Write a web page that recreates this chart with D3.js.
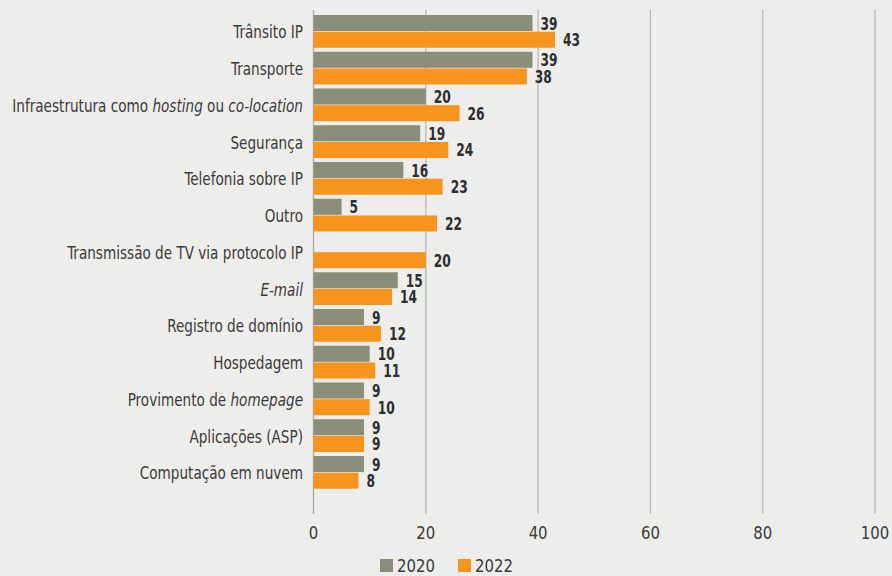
<!DOCTYPE html>
<html>
<head>
<meta charset="utf-8">
<script src="https://cdn.jsdelivr.net/npm/d3@7"></script>
<style>
  html, body { margin: 0; padding: 0; background: #ededeb; }
  svg text { font-family: "Liberation Sans Narrow", "DejaVu Sans Condensed", "Roboto", sans-serif; }
</style>
</head>
<body>
<div id="chart"></div>
<script>
// categorias (trechos entre * ficam em itálico)
let categories = [
  "Trânsito IP",
  "Transporte",
  "Infraestrutura como *hosting* ou *co-location*",
  "Segurança",
  "Telefonia sobre IP",
  "Outro",
  "Transmissão de TV via protocolo IP",
  "*E-mail*",
  "Registro de domínio",
  "Hospedagem",
  "Provimento de *homepage*",
  "Aplicações (ASP)",
  "Computação em nuvem"
];
let series = ["2020", "2022"];
let values2020 = [39, 39, 20, 19, 16, 5, null, 15, 9, 10, 9, 9, 9];
let values2022 = [43, 38, 26, 24, 23, 22, 20, 14, 12, 11, 10, 9, 8];
let ticks = [0, 20, 40, 60, 80, 100];

let width = 892, height = 576;
let squeeze = 0.84; // fonte condensada
let colors = d3.scaleOrdinal().domain(series).range(["#8a8d77", "#f7941d"]);

let svg = d3.select("#chart").append("svg")
  .attr("width", width)
  .attr("height", height);

let x = d3.scaleLinear().domain([0, 100]).range([313.5, 875]);

let y = d3.scaleBand()
  .domain(categories)
  .range([13, 13 + 13 * 36.75])
  .paddingInner(0.109)
  .paddingOuter(0.0545);

let sub = d3.scaleBand().domain(series).range([0, y.bandwidth()]).paddingInner(0.04);

// grade vertical
svg.append("g").selectAll("line")
  .data(ticks)
  .enter().append("line")
  .attr("x1", d => x(d)).attr("x2", d => x(d))
  .attr("y1", 10).attr("y2", 514)
  .attr("stroke", d => d === 0 ? "#a9a9a9" : "#b9b9b9")
  .attr("stroke-width", 1.3);

// rótulos do eixo
svg.append("g").selectAll("text")
  .data(ticks)
  .enter().append("text")
  .attr("transform", d => "translate(" + x(d) + ",539) scale(0.92,1)")
  .attr("text-anchor", "middle")
  .attr("font-size", 18)
  .attr("fill", "#3a3a3a")
  .text(d => d);

let rows = categories.map((c, i) => ({
  cat: c,
  vals: [{ s: "2020", v: values2020[i] }, { s: "2022", v: values2022[i] }]
}));

let row = svg.append("g").selectAll("g")
  .data(rows)
  .enter().append("g")
  .attr("transform", d => "translate(0," + y(d.cat) + ")");

row.selectAll("rect")
  .data(d => d.vals.filter(v => v.v != null))
  .enter().append("rect")
  .attr("x", x(0))
  .attr("y", d => sub(d.s))
  .attr("width", d => x(d.v) - x(0))
  .attr("height", sub.bandwidth())
  .attr("fill", d => colors(d.s));

row.selectAll(".val")
  .data(d => d.vals.filter(v => v.v != null))
  .enter().append("text").classed("val", true)
  .attr("transform", d => "translate(" + (x(d.v) + 8) + "," + (sub(d.s) + sub.bandwidth() / 2 + 6.5) + ") scale(0.8,1)")
  .attr("font-size", 17)
  .attr("font-weight", "bold")
  .attr("fill", "#2e2e2e")
  .text(d => d.v);

// nomes das categorias
let lab = row.append("text")
  .attr("transform", "translate(303," + (y.bandwidth() / 2 + 7) + ") scale(" + squeeze + ",1)")
  .attr("text-anchor", "end")
  .attr("font-size", 18)
  .attr("fill", "#3a3a3a");

lab.each(function(d) {
  let parts = d.cat.split("*");
  let t = d3.select(this);
  parts.forEach((p, i) => {
    if (p === "") return;
    t.append("tspan")
      .attr("font-style", i % 2 === 1 ? "italic" : "normal")
      .text(p);
  });
});

// legenda
let legend = svg.append("g").attr("transform", "translate(380,559)");
let item = legend.selectAll("g")
  .data(series)
  .enter().append("g")
  .attr("transform", (d, i) => "translate(" + i * 78 + ",0)");
item.append("rect")
  .attr("width", 13).attr("height", 13)
  .attr("fill", d => colors(d));
item.append("text")
  .attr("transform", "translate(17,13) scale(0.92,1)")
  .attr("font-size", 18)
  .attr("fill", "#3a3a3a")
  .text(d => d);
</script>
</body>
</html>
